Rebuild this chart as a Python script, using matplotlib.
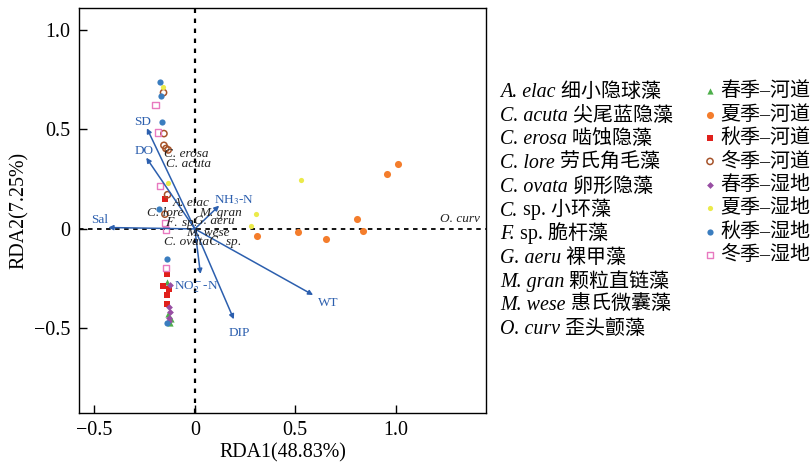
import matplotlib
matplotlib.use('Agg')
import matplotlib.pyplot as plt

plt.rcParams['font.family'] = ['Liberation Serif', 'Noto Sans CJK SC']
plt.rcParams['mathtext.fontset'] = 'stix'

# sample scores (RDA1, RDA2) by season / habitat
spring_river_x = [-0.138, -0.133, -0.124, -0.121]
spring_river_y = [-0.266, -0.427, -0.474, -0.455]
summer_river_x = [1.010, 0.957, 0.808, 0.836, 0.655, 0.512, 0.310]
summer_river_y = [0.327, 0.275, 0.052, -0.010, -0.050, -0.013, -0.035]
autumn_river_x = [-0.148, -0.138, -0.158, -0.131, -0.138, -0.138]
autumn_river_y = [0.149, -0.226, -0.286, -0.303, -0.333, -0.378]
winter_river_x = [-0.156, -0.154, -0.154, -0.144, -0.133, -0.136, -0.149]
winter_river_y = [0.685, 0.479, 0.420, 0.404, 0.397, 0.172, 0.074]
spring_wet_x = [-0.124, -0.131, -0.124, -0.131, -0.128]
spring_wet_y = [-0.280, -0.394, -0.417, -0.449, -0.462]
summer_wet_x = [-0.161, -0.133, 0.529, 0.307, 0.279]
summer_wet_y = [0.712, 0.230, 0.246, 0.077, 0.017]
autumn_wet_x = [-0.172, -0.171, -0.163, -0.179, -0.138, -0.141]
autumn_wet_y = [0.739, 0.670, 0.538, 0.099, -0.151, -0.471]
winter_wet_x = [-0.196, -0.183, -0.173, -0.149, -0.144, -0.144]
winter_wet_y = [0.622, 0.484, 0.215, 0.028, -0.005, -0.198]

# environmental vectors
env_names = ['SD', 'DO', 'Sal', r'NH$_3$-N', r'NO$_2^-$-N', 'DIP', 'WT']
env_x = [-0.239, -0.242, -0.431, 0.121, 0.028, 0.194, 0.589]
env_y = [0.506, 0.358, 0.007, 0.117, -0.226, -0.454, -0.332]
env_lab_x = [-0.258, -0.252, -0.476, 0.194, 0.007, 0.219, 0.663]
env_lab_y = [0.536, 0.393, 0.045, 0.146, -0.293, -0.521, -0.370]

# species scores
sp_names = ['C. erosa', 'C. acuta', 'A. elac', 'C. lore', 'M. gran', r'$\mathit{F.}$ sp.',
            'G. aeru', 'M. wese', 'C. ovata', r'$\mathit{C.}$ sp.', 'O. curv']
sp_x = [-0.045, -0.033, -0.016, -0.149, 0.129, -0.070, 0.097, 0.067, -0.040, 0.147, 1.320]
sp_y = [0.377, 0.325, 0.132, 0.079, 0.082, 0.029, 0.042, -0.018, -0.064, -0.064, 0.050]

# legend column of species names
legend_latin = ['A. elac', 'C. acuta', 'C. erosa', 'C. lore', 'C. ovata', 'C.', 'F.',
                'G. aeru', 'M. gran', 'M. wese', 'O. curv']
legend_cn = [' 细小隐球藻', ' 尖尾蓝隐藻', ' 啮蚀隐藻', ' 劳氏角毛藻', ' 卵形隐藻', ' sp. 小环藻',
             ' sp. 脆杆藻', ' 裸甲藻', ' 颗粒直链藻', ' 惠氏微囊藻', ' 歪头颤藻']

xticks = [-0.5, 0, 0.5, 1.0]
xticklabels = ['\u22120.5', '0', '0.5', '1.0']
yticks = [-0.5, 0, 0.5, 1.0]
yticklabels = ['\u22120.5', '0', '0.5', '1.0']

blue = '#2c5fae'

fig = plt.figure(figsize=(8.12, 4.71), dpi=100)
ax = fig.add_axes([0.0973, 0.1231, 0.5012, 0.8599])

ax.axhline(0, color='k', lw=1.3, ls=(0, (2.5, 2.5)), zorder=1)
ax.axvline(0, color='k', lw=1.6, ls=(0, (2, 2.5)), zorder=1)

ax.scatter(spring_river_x, spring_river_y, marker='^', s=20, color='#4daf4a', lw=0, label='春季–河道', zorder=3)
ax.scatter(summer_river_x, summer_river_y, marker='o', s=26, color='#f47d2c', lw=0, label='夏季–河道', zorder=3)
ax.scatter(autumn_river_x, autumn_river_y, marker='s', s=22, color='#e0201b', lw=0, label='秋季–河道', zorder=3)
ax.scatter(winter_river_x, winter_river_y, marker='o', s=20, facecolor='none', edgecolor='#a6532a', lw=1.1, label='冬季–河道', zorder=3)
ax.scatter(spring_wet_x, spring_wet_y, marker='D', s=12, color='#984ea3', lw=0, label='春季–湿地', zorder=3)
ax.scatter(summer_wet_x, summer_wet_y, marker='o', s=14, color='#ebea4a', lw=0, label='夏季–湿地', zorder=3)
ax.scatter(autumn_wet_x, autumn_wet_y, marker='o', s=20, color='#3a7dbf', lw=0, label='秋季–湿地', zorder=3)
ax.scatter(winter_wet_x, winter_wet_y, marker='s', s=20, facecolor='none', edgecolor='#e879c0', lw=1.0, label='冬季–湿地', zorder=3)

for i in range(len(env_names)):
    ax.annotate('', xy=(env_x[i], env_y[i]), xytext=(0, 0),
                arrowprops=dict(arrowstyle='-|>', color=blue, lw=1.1, mutation_scale=7,
                                shrinkA=0, shrinkB=0), zorder=4)
    ax.text(env_lab_x[i], env_lab_y[i], env_names[i], color=blue, fontsize=9.5,
            ha='center', va='center', zorder=5)

for i in range(len(sp_names)):
    ax.text(sp_x[i], sp_y[i], sp_names[i], fontsize=9.5, style='italic',
            ha='center', va='center', color='#222222', zorder=5)

ax.set_xlim(-0.577, 1.45)
ax.set_ylim(-0.925, 1.11)
ax.set_xticks(xticks)
ax.set_xticklabels(xticklabels)
ax.set_yticks(yticks)
ax.set_yticklabels(yticklabels)
ax.tick_params(direction='in', length=6, width=1, labelsize=14.4, pad=6)
ax.set_xlabel('RDA1(48.83%)', fontsize=14.4, labelpad=2)
ax.set_ylabel('RDA2(7.25%)', fontsize=14.4, labelpad=4)
for s in ax.spines.values():
    s.set_linewidth(1.0)

leg = ax.legend(loc='upper left', bbox_to_anchor=(0.867, 0.825), bbox_transform=fig.transFigure,
                frameon=False, fontsize=14.4, handlelength=0.6, handletextpad=0.2,
                labelspacing=0.22, borderpad=0, borderaxespad=0, scatterpoints=1,
                markerscale=1.0)

# species name column: italic latin + chinese
y0 = 1 - 97 / 471
for i in range(len(legend_latin)):
    t = fig.text(500 / 812, y0 - i * 23.7 / 471, legend_latin[i], style='italic',
                 fontsize=14.4, va='baseline', ha='left')
    ax.annotate(legend_cn[i], xy=(1, 0), xycoords=t, va='bottom', ha='left', fontsize=14.4,
                annotation_clip=False)

fig.savefig('out.png', dpi=100)
